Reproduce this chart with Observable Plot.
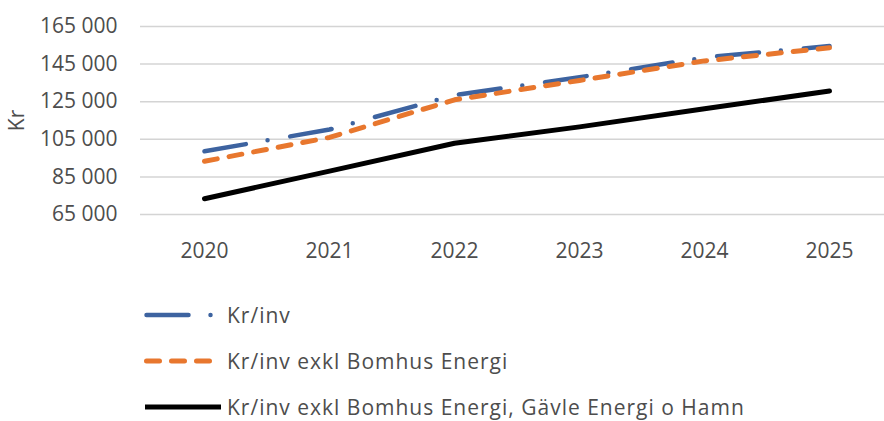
<!DOCTYPE html>
<html>
<head>
<meta charset="utf-8">
<script src="https://cdn.jsdelivr.net/npm/d3@7"></script>
<script src="https://cdn.jsdelivr.net/npm/@observablehq/plot@0.6"></script>
<style>
  html, body { margin: 0; padding: 0; background: #fff; }
  body { width: 884px; height: 421px; overflow: hidden; font-family: "Open Sans", Lato, sans-serif; color: #4d4d4d; }
  #legend { padding-top: 12px; }
  .row { height: 46px; display: flex; align-items: center; font-size: 21px; line-height: 24px; letter-spacing: 1px; }
  .row svg { margin-left: 144px; margin-right: 4px; flex: none; }
</style>
</head>
<body>
<div id="chart"></div>
<div id="legend"></div>
<script>
const years = ["2020", "2021", "2022", "2023", "2024", "2025"];
const seriesNames = [
  "Kr/inv",
  "Kr/inv exkl Bomhus Energi",
  "Kr/inv exkl Bomhus Energi, Gävle Energi o Hamn"
];
const krInv = [98600, 110200, 128500, 138000, 148500, 154600];
const krInvExklBomhus = [93300, 106000, 126000, 136300, 146700, 153700];
const krInvExklBomhusGavle = [73400, 88100, 102900, 111600, 121200, 130700];
const yTicks = [65000, 85000, 105000, 125000, 145000, 165000];

const styles = [
  { color: "#3D63A0", dash: "42 22 0 23", width: 4.5 },
  { color: "#E8772E", dash: "13 12", width: 5 },
  { color: "#000000", dash: null, width: 5 }
];

const seriesValues = [krInv, krInvExklBomhus, krInvExklBomhusGavle];
const data = [];
seriesValues.forEach((vals, s) => {
  vals.forEach((v, i) => data.push({ series: seriesNames[s], year: years[i], value: v }));
});

const fmt = d => d3.format(",")(d).replace(/,/g, " ");

const lineMarks = seriesNames.map((name, s) =>
  Plot.line(data.filter(d => d.series === name), {
    x: "year",
    y: "value",
    stroke: styles[s].color,
    strokeWidth: styles[s].width,
    strokeDasharray: styles[s].dash,
    strokeLinecap: "round",
    strokeLinejoin: "round"
  })
);

const chart = Plot.plot({
  width: 884,
  height: 280,
  marginTop: 26,
  marginBottom: 66,
  marginLeft: 140,
  marginRight: 0,
  style: { fontFamily: "'Open Sans', Lato, sans-serif", fontSize: "21px", color: "#4d4d4d", background: "#fff" },
  x: { type: "point", domain: years, range: [203, 830], padding: 0 },
  y: { domain: [65000, 165000] },
  marks: [
    Plot.gridY(yTicks, { stroke: "#d4d4d4", strokeOpacity: 1, strokeWidth: 1.5 }),
    Plot.axisY(yTicks, {
      tickSize: 0, tickPadding: 23, tickFormat: fmt,
      label: "Kr", labelAnchor: "center", labelArrow: "none", labelOffset: 131,
      fill: "#4d4d4d"
    }),
    Plot.axisX(years, { tickSize: 0, tickPadding: 29, label: null, fill: "#4d4d4d" }),
    ...lineMarks
  ]
});
document.getElementById("chart").appendChild(chart);

const legend = document.getElementById("legend");
seriesNames.forEach((name, s) => {
  const row = document.createElement("div");
  row.className = "row";
  const sw = d3.create("svg").attr("width", 79).attr("height", 12);
  sw.append("line")
    .attr("x1", s === 2 ? 1 : 2.5).attr("x2", s === 0 ? 70 : (s === 1 ? 66 : 77))
    .attr("y1", 6).attr("y2", 6)
    .attr("stroke", styles[s].color)
    .attr("stroke-width", styles[s].width)
    .attr("stroke-linecap", s === 2 ? "butt" : "round")
    .attr("stroke-dasharray", styles[s].dash);
  row.appendChild(sw.node());
  const t = document.createElement("span");
  t.textContent = name;
  row.appendChild(t);
  legend.appendChild(row);
});
</script>
</body>
</html>
